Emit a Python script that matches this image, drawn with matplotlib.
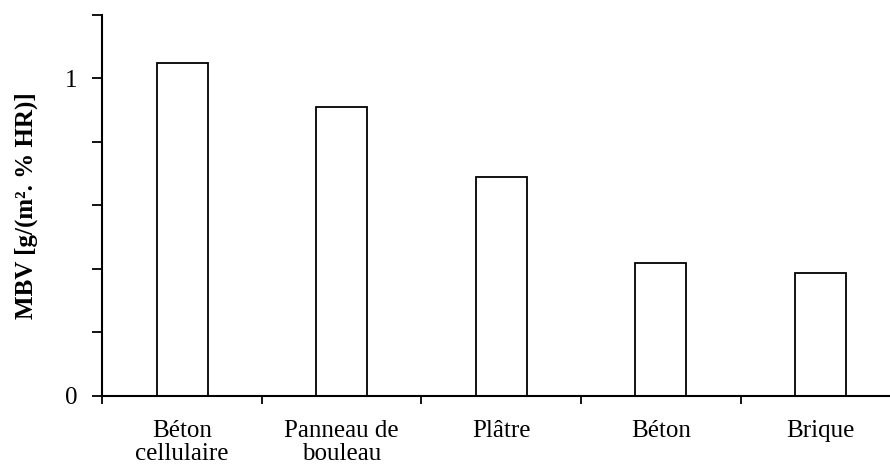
import numpy as np
import matplotlib.pyplot as plt
from matplotlib.ticker import MultipleLocator, FixedLocator

plt.rcParams['font.family'] = ['Liberation Serif', 'DejaVu Serif']

# MBV values per material
materiaux = ['Béton\ncellulaire', 'Panneau de\nbouleau', 'Plâtre', 'Béton', 'Brique']
mbv = [1.049, 0.909, 0.688, 0.419, 0.388]

x = np.arange(len(materiaux))

fig = plt.figure(figsize=(8.9, 4.66), dpi=100)
ax = fig.add_axes([0.1151, 0.1509, 0.8849, 0.8174])

ax.bar(x, mbv, width=0.32, color='white', edgecolor='black', linewidth=1.3)

ax.set_xlim(-0.5, 4.437)
ax.set_ylim(0, 1.2)

# y ticks every 0.2, labels only at 0 and 1
ax.yaxis.set_major_locator(FixedLocator([0, 1]))
ax.yaxis.set_minor_locator(MultipleLocator(0.2))
ax.set_yticklabels(['0', '1'])
ax.tick_params(axis='y', which='both', direction='out', length=7, width=1.3)
ax.tick_params(axis='y', which='major', labelsize=18, pad=11)

# x: labels at centres, tick marks at category boundaries
ax.set_xticks(x)
ax.set_xticklabels(materiaux, fontsize=18, linespacing=1.05)
ax.tick_params(axis='x', which='major', length=0, pad=17.5)
ax.xaxis.set_minor_locator(FixedLocator(np.arange(-0.5, 5, 1.0)))
ax.tick_params(axis='x', which='minor', direction='out', length=6, width=1.3)

for s in ['top', 'right']:
    ax.spines[s].set_visible(False)
for s in ['left', 'bottom']:
    ax.spines[s].set_linewidth(1.5)

ax.set_ylabel('MBV [g/(m². % HR)]', fontsize=18, fontweight='bold')
ax.yaxis.set_label_coords(-0.082, 0.5)

fig.savefig('out.png', dpi=100)
